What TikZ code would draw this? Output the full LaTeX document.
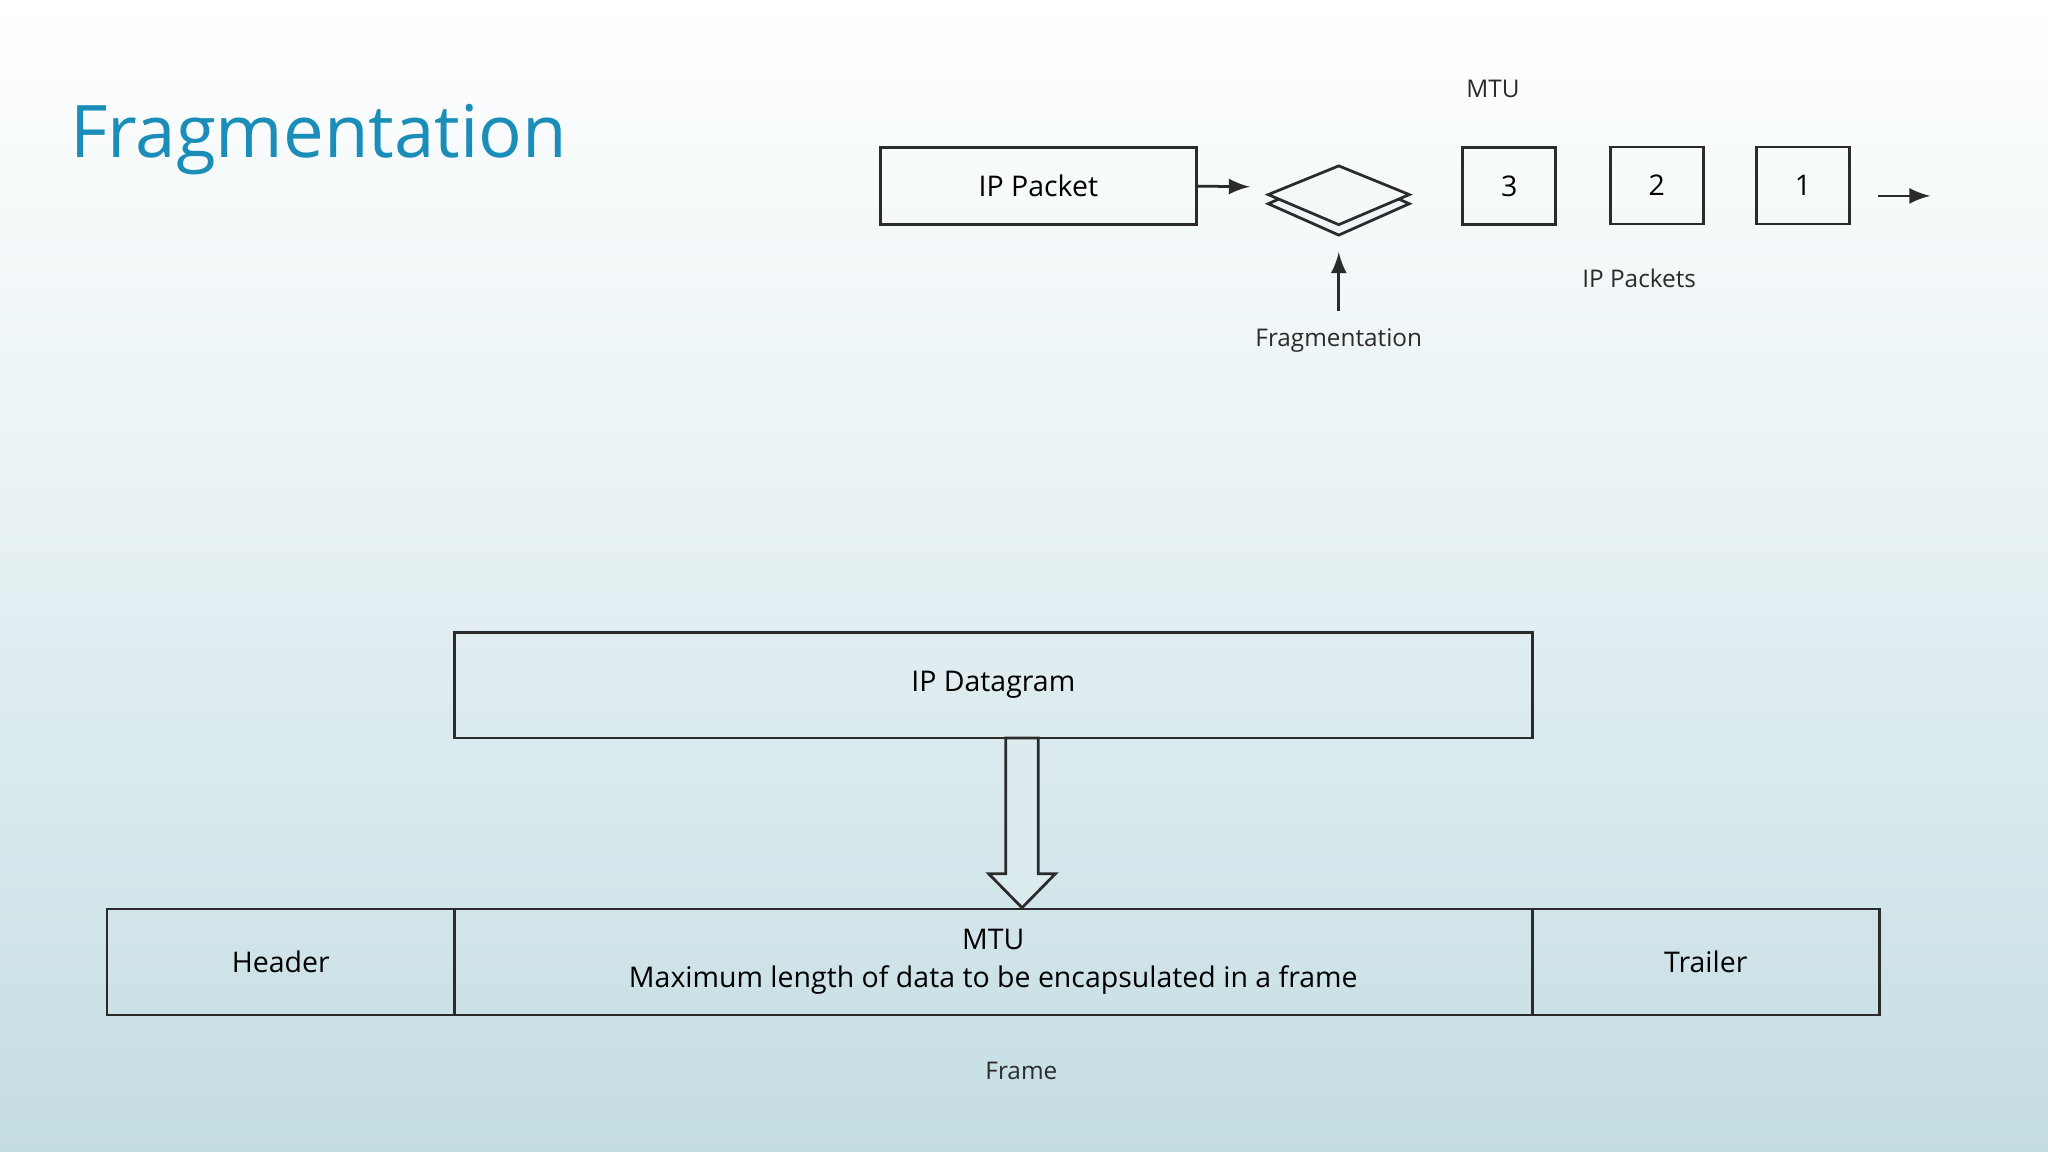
\documentclass[tikz,border=0pt]{standalone}
\usepackage{fontspec}
\setmainfont{Open Sans}
\usetikzlibrary{positioning}
\definecolor{titleblue}{HTML}{1A8DB8}
\definecolor{bgbottom}{HTML}{C4DDE3}
\definecolor{linegray}{HTML}{2B2B2B}

\begin{document}
\begin{tikzpicture}[x=0.01cm, y=-0.01cm,
    box/.style = {draw = linegray, line width = 0.6pt, rectangle, inner sep = 0pt, font = \fontsize{6.2}{8.4}\selectfont},
    small/.style = {font = \fontsize{5.3}{7}\selectfont, text = linegray},
    arr/.style = {->, > = latex, line width = 0.6pt, draw = linegray}]
        % Background
        \shade [top color = white, bottom color = bgbottom, middle color = bgbottom!45] (0, 0) rectangle (1568, 882);
        \useasboundingbox (0, 0) rectangle (1568, 882);

        % Title
        \node [anchor = west, text = titleblue, font = \fontsize{15.8}{18}\selectfont, inner sep = 0pt] (title) at (53, 107) {Fragmentation};

        % Upper part
        \node [box, minimum width = 2.42cm, minimum height = 0.59cm] (pkt) at (795, 142.5) {IP Packet};
        \coordinate (pktend) at (957, 143);
        \draw [arr] (pkt.east) -- (pktend);

        % Fragmentation layers
        \draw [linegray, line width = 0.6pt, fill = bgbottom!30] (971, 156) -- (1025, 180) -- (1079, 156) -- (1025, 132) -- cycle;
        \draw [linegray, line width = 0.6pt, fill = bgbottom!20] (971, 149) -- (1025, 172) -- (1079, 149) -- (1025, 127) -- cycle;
        \node [small] (frag) at (1025, 261) {Fragmentation};
        \coordinate (fragtop) at (1025, 193);
        \coordinate (fragbot) at (1025, 238);
        \draw [arr] (fragbot) -- (fragtop);

        \node [small] (mtu) at (1143, 68) {MTU};
        \node [box, minimum width = 0.71cm, minimum height = 0.59cm] (p3) at (1155.5, 142.5) {3};
        \node [box, minimum width = 0.71cm, minimum height = 0.59cm] (p2) at (1268.5, 142) {2};
        \node [box, minimum width = 0.71cm, minimum height = 0.59cm] (p1) at (1380.5, 142) {1};
        \node [small] (pkts) at (1255, 213) {IP Packets};
        \coordinate (outa) at (1438, 150);
        \coordinate (outb) at (1478, 150);
        \draw [arr] (outa) -- (outb);

        % Lower part
        \node [box, minimum width = 8.25cm, minimum height = 0.81cm] (dgram) at (760.5, 524.5) {IP Datagram};
        \draw [linegray, line width = 0.6pt, fill = bgbottom!60!white] (770, 565) -- (770, 669) -- (757, 669) -- (782.5, 695) -- (808, 669) -- (795, 669) -- (795, 565) -- cycle;

        \node [box, minimum width = 2.66cm, minimum height = 0.81cm] (head) at (215, 736.5) {Header};
        \node [box, minimum width = 8.25cm, minimum height = 0.81cm, align = center] (mtubox) at (760.5, 736.5) {MTU\\Maximum length of data to be encapsulated in a frame};
        \node [box, minimum width = 2.66cm, minimum height = 0.81cm] (trail) at (1306, 736.5) {Trailer};
        \node [small] (frame) at (782, 820) {Frame};
\end{tikzpicture}
\end{document}
